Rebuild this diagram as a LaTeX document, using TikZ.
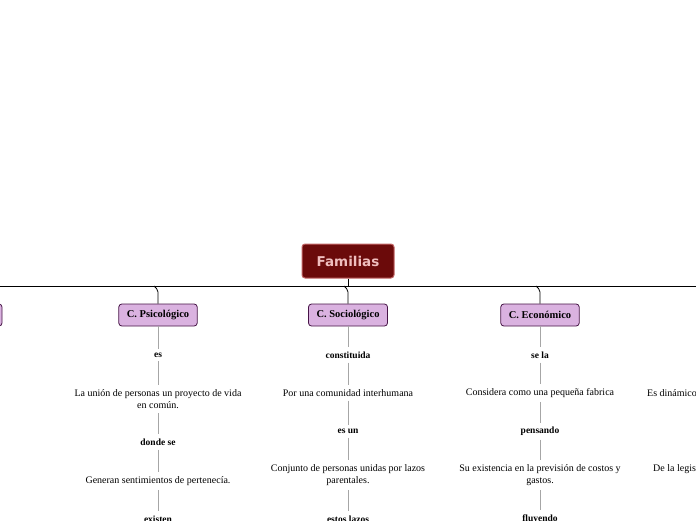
\documentclass[tikz,border=0pt]{standalone}
\usepackage{fontspec}
\setmainfont{Liberation Serif}
\newfontfamily\hsans{DejaVu Sans}
\begin{document}
\begin{tikzpicture}[x=1pt,y=-1pt,
  root/.style={draw=red!60!black!60,line width=1pt,fill={rgb,255:red,107;green,10;blue,10},rounded corners=3pt,minimum width=92pt,minimum height=34pt,text={rgb,255:red,240;green,190;blue,190},font=\hsans\bfseries\fontsize{13.5}{15}\selectfont},
  branch/.style={draw={rgb,255:red,70;green,20;blue,70},line width=0.8pt,fill={rgb,255:red,218;green,178;blue,224},rounded corners=3pt,minimum height=22pt,inner xsep=8pt,font=\bfseries\fontsize{10.5}{12}\selectfont},
  lab/.style={font=\bfseries\fontsize{9.5}{11}\selectfont,inner sep=4pt},
  txt/.style={font=\fontsize{10}{12.5}\selectfont,align=center,inner sep=4pt},
  gl/.style={draw=gray!70,line width=0.6pt}]
\useasboundingbox (0,0) rectangle (696,520);
\clip (0,0) rectangle (696,520);
\node[root] (f) at (348,261) {Familias};
\coordinate (h) at (348,286);
\draw[line width=0.8pt] (f.south) -- (h);
\draw[line width=0.8pt] (0,286) -- (696,286);
\node[branch] (p) at (158,315) {C. Psicológico};
\node[branch] (s) at (348,315) {C. Sociológico};
\node[branch] (e) at (540,315) {C. Económico};
\node[branch,minimum width=82pt] (l) at (-39,315) {};
\foreach \b/\x in {p/158,s/348,e/540} \draw[line width=0.8pt,rounded corners=2pt] (\x-4,286) -- (\x,290) -- (\b.north);
% Psicologico
\node[lab] (p1) at (158,355) {es};
\node[txt] (p2) at (158,399) {La unión de personas un proyecto de vida\\en común.};
\node[lab] (p3) at (158,442) {donde se};
\node[txt] (p4) at (158,481) {Generan sentimientos de pertenecía.};
\node[lab] (p5) at (158,519) {existen};
\draw[gl] (p.south)--(p1.north) (p1.south)--(p2.north) (p2.south)--(p3.north) (p3.south)--(p4.north) (p4.south)--(p5.north);
% Sociologico
\node[lab] (s1) at (348,355) {constituida};
\node[txt] (s2) at (348,393) {Por una comunidad interhumana};
\node[lab] (s3) at (348,431) {es un};
\node[txt] (s4) at (348,475) {Conjunto de personas unidas por lazos\\parentales.};
\node[lab] (s5) at (348,519) {estos lazos};
\draw[gl] (s.south)--(s1.north) (s1.south)--(s2.north) (s2.south)--(s3.north) (s3.south)--(s4.north) (s4.south)--(s5.north);
% Economico
\node[lab] (e1) at (540,355) {se la};
\node[txt] (e2) at (540,393) {Considera como una pequeña fabrica};
\node[lab] (e3) at (540,431) {pensando};
\node[txt] (e4) at (540,475) {Su existencia en la previsión de costos y\\gastos.};
\node[lab] (e5) at (540,519) {fluyendo};
\draw[gl] (e.south)--(e1.north) (e1.south)--(e2.north) (e2.south)--(e3.north) (e3.south)--(e4.north) (e4.south)--(e5.north);
% right cut
\node[txt,anchor=west,inner sep=0pt] (r1) at (647,393) {Es dinámico};
\node[txt,anchor=west,inner sep=0pt] (r2) at (653,469) {De la legislación};
\end{tikzpicture}
\end{document}
